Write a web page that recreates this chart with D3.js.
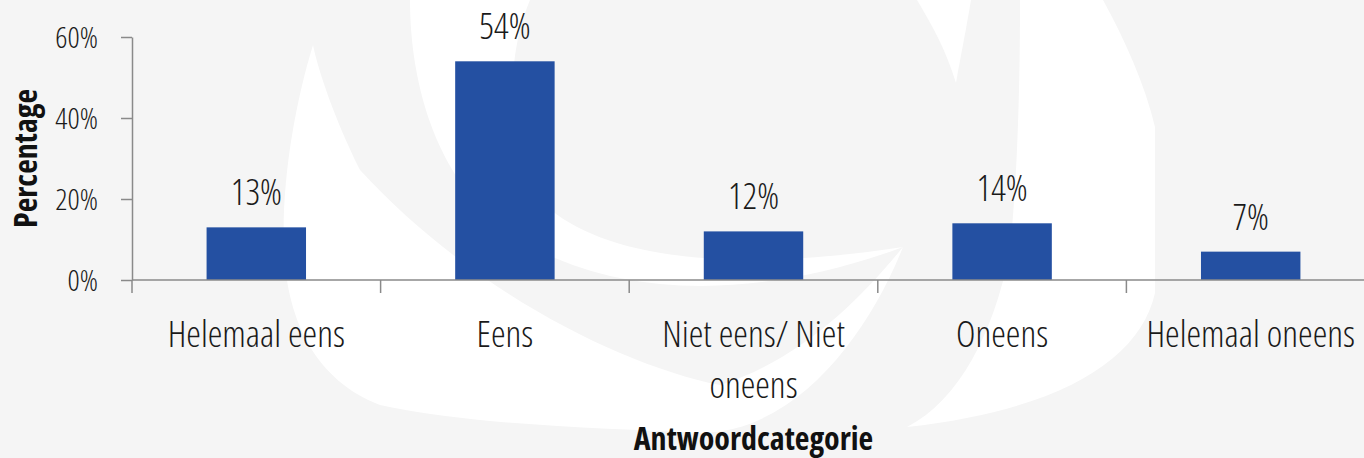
<!DOCTYPE html>
<html>
<head>
<meta charset="utf-8">
<script src="https://cdn.jsdelivr.net/npm/d3@7"></script>
<style>
  body { margin: 0; background: #f5f5f5; }
  svg { display: block; }
  text { font-family: "Open Sans", sans-serif; font-stretch: 75%; }
</style>
</head>
<body>
<div id="chart"></div>
<script>
// chart data
const categories = ["Helemaal eens", "Eens", "Niet eens/ Niet oneens", "Oneens", "Helemaal oneens"];
const percentages = [13, 54, 12, 14, 7];
const yTicks = [0, 20, 40, 60];
const xTitle = "Antwoordcategorie";
const yTitle = "Percentage";

const width = 1364, height = 458;
const margin = { top: 37, right: -11, bottom: 178, left: 132 };

const svg = d3.select("#chart")
    .append("svg")
    .attr("width", width)
    .attr("height", height);

svg.append("rect")
    .attr("width", width)
    .attr("height", height)
    .attr("fill", "#f5f5f5");

// faint logo watermark in the background
const watermark = [
    // left petal, sweeping round the bottom to a point on the right
    "M313,45 C296,100 281,180 284,250 C287,320 315,380 380,405 C470,425 600,428 703,433 C800,430 870,330 903,247 C860,300 800,360 720,385 C620,365 470,290 360,170 C335,120 318,70 313,45 Z",
    // inner crescent starting at the top edge
    "M410,0 L530,0 C505,60 505,140 545,205 C600,255 720,275 903,247 C760,300 620,300 520,240 C440,190 410,90 410,0 Z",
    // small spike at the top
    "M917,0 L971,0 C966,30 960,60 956,83 C946,50 932,25 917,0 Z",
    // right petal
    "M1020,0 L1103,0 C1125,40 1145,85 1155,127 L1155,293 C1140,360 1060,410 907,427 C960,400 995,330 1010,250 C1018,170 1020,80 1020,0 Z"
];
svg.append("g")
    .selectAll("path")
    .data(watermark)
    .join("path")
    .attr("d", d => d)
    .attr("fill", "#ffffff");

const x = d3.scaleBand()
    .domain(categories)
    .range([margin.left, width - margin.right])
    .paddingInner(0.6)
    .paddingOuter(0.3);

const y = d3.scaleLinear()
    .domain([0, 60])
    .range([height - margin.bottom, margin.top]);

// y axis
const yAxis = d3.axisLeft(y)
    .tickValues(yTicks)
    .tickFormat(d => d + "%")
    .tickSize(11)
    .tickSizeOuter(0)
    .tickPadding(23);

const gy = svg.append("g")
    .attr("transform", `translate(${margin.left},0)`)
    .call(yAxis);
gy.select(".domain").attr("stroke", "#8a8a8a").attr("stroke-width", 1.5);
gy.selectAll(".tick line").attr("stroke", "#8a8a8a").attr("stroke-width", 1.5);
gy.selectAll(".tick text")
    .attr("fill", "#1a1a1a")
    .attr("dy", "0.34em")
    .style("font-size", "30px")
    .style("font-weight", 300);

// bars
svg.append("g")
    .selectAll("rect")
    .data(categories)
    .join("rect")
    .attr("x", d => x(d))
    .attr("y", (d, i) => y(percentages[i]))
    .attr("width", x.bandwidth())
    .attr("height", (d, i) => y(0) - y(percentages[i]))
    .attr("fill", "#2450a2");

// value labels
svg.append("g")
    .selectAll("text")
    .data(categories)
    .join("text")
    .attr("x", d => x(d) + x.bandwidth() / 2)
    .attr("y", (d, i) => y(percentages[i]) - 22)
    .attr("text-anchor", "middle")
    .attr("fill", "#1a1a1a")
    .style("font-size", "36px")
    .style("font-weight", 300)
    .text((d, i) => percentages[i] + "%");

// x axis line and boundary ticks
const x0 = x.range()[0];
svg.append("line")
    .attr("x1", x0)
    .attr("x2", width)
    .attr("y1", y(0))
    .attr("y2", y(0))
    .attr("stroke", "#8a8a8a")
    .attr("stroke-width", 1.5);

svg.append("g")
    .selectAll("line")
    .data(d3.range(categories.length + 1))
    .join("line")
    .attr("x1", i => x0 + i * x.step())
    .attr("x2", i => x0 + i * x.step())
    .attr("y1", y(0))
    .attr("y2", y(0) + 13)
    .attr("stroke", "#8a8a8a")
    .attr("stroke-width", 1.5);

// category labels, wrapped to the band step
const catLabels = svg.append("g")
    .selectAll("text")
    .data(categories)
    .join("text")
    .attr("x", d => x(d) + x.bandwidth() / 2)
    .attr("y", y(0) + 67)
    .attr("text-anchor", "middle")
    .attr("fill", "#1a1a1a")
    .style("font-size", "37px")
    .style("font-weight", 300)
    .text(d => d);

catLabels.each(function(d) {
    const text = d3.select(this);
    const words = d.split(/\s+/);
    const cx = text.attr("x");
    text.text(null);
    let line = [];
    let tspan = text.append("tspan").attr("x", cx).attr("dy", 0);
    words.forEach(w => {
        line.push(w);
        tspan.text(line.join(" "));
        if (tspan.node().getComputedTextLength() > x.step() && line.length > 1) {
            line.pop();
            tspan.text(line.join(" "));
            line = [w];
            tspan = text.append("tspan").attr("x", cx).attr("dy", 51).text(w);
        }
    });
});

// axis titles
svg.append("text")
    .attr("x", x0 + (x.step() * categories.length) / 2)
    .attr("y", 450)
    .attr("text-anchor", "middle")
    .attr("fill", "#111")
    .style("font-size", "32px")
    .style("font-weight", 700)
    .text(xTitle);

svg.append("text")
    .attr("transform", `translate(37,${(y(0) + y(60)) / 2}) rotate(-90)`)
    .attr("text-anchor", "middle")
    .attr("fill", "#111")
    .style("font-size", "32px")
    .style("font-weight", 700)
    .text(yTitle);
</script>
</body>
</html>
